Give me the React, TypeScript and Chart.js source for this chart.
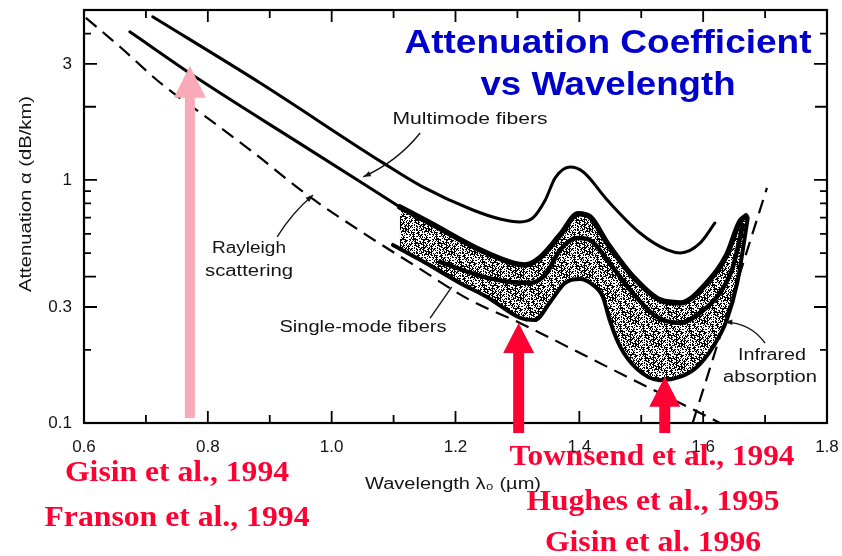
import React, { useEffect, useRef } from "react";
import { Chart, registerables } from "chart.js";

Chart.register(...registerables);

// ---- Axis ticks ----
const wavelengthTicks = [0.6, 0.8, 1.0, 1.2, 1.4, 1.6, 1.8];
const wavelengthMinorTicks = [0.7, 0.9, 1.1, 1.3, 1.5, 1.7];
const attenuationTicks = [0.1, 0.3, 1, 3];
const attenuationLongTicks = [0.4, 2];
const attenuationShortTicks = [0.2, 0.5, 0.6, 0.7, 0.8, 0.9, 4];

// ---- Curves: wavelength (µm) and attenuation (dB/km) ----
const multimodeWavelength = [0.711, 0.884, 1.083, 1.147, 1.228, 1.272, 1.304, 1.325, 1.345, 1.361, 1.385, 1.406, 1.445, 1.498, 1.542, 1.563, 1.595, 1.619];
const multimodeAttenuation = [4.69, 2.51, 1.175, 0.936, 0.752, 0.691, 0.672, 0.698, 0.827, 1.02, 1.13, 1.08, 0.827, 0.605, 0.515, 0.501, 0.55, 0.665];

const singleLeadWavelength = [0.674, 0.787, 0.949, 1.11];
const singleLeadAttenuation = [4.07, 2.58, 1.41, 0.774];

const bandTopWavelength = [1.11, 1.159, 1.24, 1.293, 1.312, 1.336, 1.369, 1.398, 1.417, 1.445, 1.487, 1.53, 1.563, 1.606, 1.638, 1.659, 1.669];
const bandTopAttenuation = [0.774, 0.665, 0.515, 0.455, 0.447, 0.478, 0.594, 0.725, 0.705, 0.55, 0.399, 0.321, 0.312, 0.377, 0.491, 0.672, 0.711];

const bandMidWavelength = [1.175, 1.24, 1.288, 1.32, 1.345, 1.369, 1.396, 1.417, 1.445, 1.482, 1.525, 1.563, 1.595, 1.627, 1.648, 1.664];
const bandMidAttenuation = [0.46, 0.403, 0.38, 0.377, 0.407, 0.515, 0.577, 0.566, 0.469, 0.353, 0.273, 0.258, 0.284, 0.343, 0.438, 0.653];

const bandLowWavelength = [1.099, 1.143, 1.207, 1.251, 1.304, 1.328, 1.353, 1.377, 1.401, 1.42, 1.438, 1.449, 1.466, 1.493, 1.53, 1.563, 1.59, 1.616, 1.638, 1.655, 1.664, 1.672];
const bandLowAttenuation = [0.54, 0.469, 0.377, 0.33, 0.271, 0.265, 0.315, 0.377, 0.391, 0.373, 0.33, 0.265, 0.206, 0.167, 0.15, 0.155, 0.17, 0.206, 0.265, 0.377, 0.515, 0.698];

const rayleighWavelength = [0.603, 0.658, 0.723, 0.803, 0.868, 0.965, 1.051, 1.138, 1.223, 1.304, 1.401, 1.509, 1.595, 1.627];
const rayleighAttenuation = [4.64, 3.53, 2.51, 1.77, 1.33, 0.851, 0.605, 0.438, 0.321, 0.258, 0.194, 0.141, 0.11, 0.1];

const infraredWavelength = [1.583, 1.703];
const infraredAttenuation = [0.1, 0.927];

// ---- Callout pointers: [wavelength, attenuation] from label to curve ----
const multimodePointer = [[1.143, 1.56], [1.051, 1.03]];
const rayleighPointer = [[0.912, 0.583], [0.97, 0.867]];
const singleModePointer = [[1.159, 0.27], [1.194, 0.363]];
const infraredPointer = [[1.7, 0.213], [1.635, 0.26]];

// ---- Experiment markers: wavelength and attenuation at arrow tip ----
const shortWaveArrow = { wavelength: 0.771, attenuation: 2.95 };
const telecomArrowWavelength = [1.302, 1.538];
const telecomArrowAttenuation = [0.258, 0.155];

// ---- Text ----
const titleLines = ["Attenuation Coefficient", "vs Wavelength"];
const shortWaveRefs = ["Gisin et al., 1994", "Franson et al., 1994"];
const telecomRefs = ["Townsend et al., 1994", "Hughes et al., 1995", "Gisin et al. 1996"];
const yTitle = "Attenuation α (dB/km)";
const xTitle = "Wavelength λ₀ (µm)";

const RED = "#ff0033";
const PINK = "#f9aab9";
const BLUE = "#0000cc";
const INK = "#141414";

const zip = (xs: number[], ys: number[]) => xs.map((x, i) => ({ x, y: ys[i] }));

// Irregular print-style stipple used for the single-mode spread band
function makeStipple(): CanvasPattern | string {
  const size = 23;
  const c = document.createElement("canvas");
  c.width = size;
  c.height = size;
  const g = c.getContext("2d");
  if (!g) return "rgba(0,0,0,0.5)";
  g.fillStyle = "#000";
  for (let i = 0; i < size; i++) {
    for (let j = 0; j < size; j++) {
      const h = (i * 73 + j * 151 + i * j * 37 + ((i * i) % 11) * 19) % 97;
      if (h < 46) g.fillRect(i, j, 1, 1);
    }
  }
  return g.createPattern(c, "repeat") ?? "rgba(0,0,0,0.5)";
}

function fitText(
  ctx: CanvasRenderingContext2D,
  text: string,
  cx: number,
  cy: number,
  width: number,
  font: string,
  color: string,
  rotate = 0
) {
  ctx.save();
  ctx.font = font;
  const w = ctx.measureText(text).width;
  ctx.translate(cx, cy);
  if (rotate) ctx.rotate(rotate);
  ctx.scale(width / w, 1);
  ctx.textAlign = "center";
  ctx.textBaseline = "middle";
  ctx.fillStyle = color;
  ctx.fillText(text, 0, 0);
  ctx.restore();
}

function blockArrow(
  ctx: CanvasRenderingContext2D,
  x: number,
  tipY: number,
  baseY: number,
  shaftW: number,
  headW: number,
  headL: number,
  color: string
) {
  ctx.save();
  ctx.fillStyle = color;
  ctx.beginPath();
  ctx.moveTo(x, tipY);
  ctx.lineTo(x + headW / 2, tipY + headL);
  ctx.lineTo(x + shaftW / 2, tipY + headL);
  ctx.lineTo(x + shaftW / 2, baseY);
  ctx.lineTo(x - shaftW / 2, baseY);
  ctx.lineTo(x - shaftW / 2, tipY + headL);
  ctx.lineTo(x - headW / 2, tipY + headL);
  ctx.closePath();
  ctx.fill();
  ctx.restore();
}

function arrowHead(ctx: CanvasRenderingContext2D, x0: number, y0: number, x1: number, y1: number) {
  const a = Math.atan2(y1 - y0, x1 - x0);
  const len = 8;
  ctx.beginPath();
  ctx.moveTo(x1, y1);
  ctx.lineTo(x1 - len * Math.cos(a - 0.35), y1 - len * Math.sin(a - 0.35));
  ctx.lineTo(x1 - len * Math.cos(a + 0.35), y1 - len * Math.sin(a + 0.35));
  ctx.closePath();
  ctx.fill();
}

const decorations = {
  id: "decorations",
  afterDraw(chart: Chart) {
    const { ctx, chartArea } = chart;
    const xs = chart.scales.x;
    const ys = chart.scales.y;
    const { left, right, top, bottom } = chartArea;
    const px = (v: number) => xs.getPixelForValue(v);
    const py = (v: number) => ys.getPixelForValue(v);

    ctx.save();
    // frame
    ctx.strokeStyle = "#000";
    ctx.lineWidth = 2.2;
    ctx.strokeRect(left, top, right - left, bottom - top);

    // inward ticks
    ctx.lineWidth = 1.8;
    const hTick = (v: number, len: number) => {
      const x = px(v);
      ctx.beginPath();
      ctx.moveTo(x, bottom);
      ctx.lineTo(x, bottom - len);
      ctx.moveTo(x, top);
      ctx.lineTo(x, top + len);
      ctx.stroke();
    };
    wavelengthTicks.forEach((v) => hTick(v, 12));
    wavelengthMinorTicks.forEach((v) => hTick(v, 8));
    const vTick = (v: number, len: number) => {
      const y = py(v);
      ctx.beginPath();
      ctx.moveTo(left, y);
      ctx.lineTo(left + len, y);
      ctx.moveTo(right, y);
      ctx.lineTo(right - len, y);
      ctx.stroke();
    };
    attenuationTicks.forEach((v) => vTick(v, 13));
    attenuationLongTicks.forEach((v) => vTick(v, 12));
    attenuationShortTicks.forEach((v) => vTick(v, 7));

    // callout pointers
    ctx.strokeStyle = INK;
    ctx.fillStyle = INK;
    ctx.lineWidth = 1.4;
    const drawPointer = (p: number[][], bend: number, head: boolean) => {
      const x0 = px(p[0][0]);
      const y0 = py(p[0][1]);
      const x1 = px(p[1][0]);
      const y1 = py(p[1][1]);
      const mx = (x0 + x1) / 2 + bend * (y1 - y0);
      const my = (y0 + y1) / 2 - bend * (x1 - x0);
      ctx.beginPath();
      ctx.moveTo(x0, y0);
      ctx.quadraticCurveTo(mx, my, x1, y1);
      ctx.stroke();
      if (head) arrowHead(ctx, mx, my, x1, y1);
    };
    drawPointer(multimodePointer, 0.12, true);
    drawPointer(rayleighPointer, 0.08, true);
    drawPointer(singleModePointer, 0, false);
    drawPointer(infraredPointer, -0.25, true);

    // curve labels
    const labelFont = "16px 'Liberation Sans', Arial, sans-serif";
    fitText(ctx, "Multimode fibers", 470, 120, 155, labelFont, INK);
    fitText(ctx, "Rayleigh", 249, 249, 74, labelFont, INK);
    fitText(ctx, "scattering", 249, 272, 88, labelFont, INK);
    fitText(ctx, "Single-mode fibers", 363, 328, 167, labelFont, INK);
    fitText(ctx, "Infrared", 772, 356, 68, labelFont, INK);
    fitText(ctx, "absorption", 770, 378, 94, labelFont, INK);

    // axis titles
    fitText(ctx, yTitle, 27, 194, 196, "16px 'Liberation Sans', Arial, sans-serif", INK, -Math.PI / 2);
    fitText(ctx, xTitle, 453, 485, 176, "16px 'Liberation Sans', Arial, sans-serif", INK);

    // experiment arrows
    blockArrow(ctx, px(shortWaveArrow.wavelength), py(shortWaveArrow.attenuation), bottom - 5, 10, 32, 32, PINK);
    telecomArrowWavelength.forEach((w, i) => {
      blockArrow(ctx, px(w), py(telecomArrowAttenuation[i]), bottom + 10, 11, 31, 30, RED);
    });

    // references
    const refFont = "bold 30px 'Liberation Serif', 'Times New Roman', serif";
    fitText(ctx, shortWaveRefs[0], 177, 473, 224, refFont, RED);
    fitText(ctx, shortWaveRefs[1], 177, 518, 265, refFont, RED);
    fitText(ctx, telecomRefs[0], 652, 457, 285, refFont, RED);
    fitText(ctx, telecomRefs[1], 653, 502, 253, refFont, RED);
    fitText(ctx, telecomRefs[2], 653, 543, 216, refFont, RED);

    // title
    const titleFont = "bold 33px 'Liberation Sans', Arial, sans-serif";
    fitText(ctx, titleLines[0], 608, 44, 407, titleFont, BLUE);
    fitText(ctx, titleLines[1], 608, 86, 255, titleFont, BLUE);

    ctx.restore();
  },
};

export default function App() {
  const canvasRef = useRef<HTMLCanvasElement | null>(null);

  useEffect(() => {
    const canvas = canvasRef.current;
    if (!canvas) return;
    const stipple = makeStipple();

    const solid = (data: { x: number; y: number }[], width: number, extra: object = {}) => ({
      data,
      borderColor: "#000",
      borderWidth: width,
      pointRadius: 0,
      cubicInterpolationMode: "monotone" as const,
      borderCapStyle: "round" as const,
      borderJoinStyle: "round" as const,
      fill: false,
      ...extra,
    });

    const chart = new Chart(canvas, {
      type: "line",
      data: {
        datasets: [
          solid(zip(bandMidWavelength, bandMidAttenuation), 4.5),
          solid(zip(bandTopWavelength, bandTopAttenuation), 5.5, {
            fill: 2,
            backgroundColor: stipple,
          }),
          solid(zip(bandLowWavelength, bandLowAttenuation), 4),
          solid(zip(singleLeadWavelength, singleLeadAttenuation), 3),
          solid(zip(multimodeWavelength, multimodeAttenuation), 3),
          solid(zip(rayleighWavelength, rayleighAttenuation), 2.2, {
            borderDash: [14, 8],
            borderCapStyle: "butt",
          }),
          solid(zip(infraredWavelength, infraredAttenuation), 2.2, {
            borderDash: [14, 8],
            borderCapStyle: "butt",
          }),
        ],
      },
      options: {
        responsive: false,
        animation: false,
        events: [],
        devicePixelRatio: 1,
        layout: { padding: { top: 10, right: 15, left: 0, bottom: 0 } },
        plugins: {
          legend: { display: false },
          tooltip: { enabled: false },
          filler: { propagate: false, drawTime: "beforeDatasetsDraw" },
        },
        scales: {
          x: {
            type: "linear",
            min: 0.6,
            max: 1.8,
            grid: { display: false, drawTicks: false },
            border: { display: false },
            afterBuildTicks: (axis: any) => {
              axis.ticks = wavelengthTicks.map((value) => ({ value }));
            },
            afterFit: (scale: any) => {
              scale.height = 133;
              scale.paddingLeft = 0;
              scale.paddingRight = 0;
            },
            ticks: {
              autoSkip: false,
              maxRotation: 0,
              padding: 14,
              color: INK,
              font: { family: "'Liberation Sans', Arial, sans-serif", size: 17 },
              callback: (v: any) => Number(v).toFixed(1),
            },
          },
          y: {
            type: "logarithmic",
            min: 0.1,
            max: 5,
            grid: { display: false, drawTicks: false },
            border: { display: false },
            afterBuildTicks: (axis: any) => {
              axis.ticks = attenuationTicks.map((value) => ({ value }));
            },
            afterFit: (scale: any) => {
              scale.width = 84;
              scale.paddingTop = 0;
              scale.paddingBottom = 0;
            },
            ticks: {
              autoSkip: false,
              padding: 12,
              color: INK,
              font: { family: "'Liberation Sans', Arial, sans-serif", size: 17 },
              callback: (v: any) => String(v),
            },
          },
        },
      },
      plugins: [decorations as any],
    });

    return () => chart.destroy();
  }, []);

  return (
    <div style={{ position: "fixed", left: 0, top: 0, width: 842, height: 556, background: "#fff" }}>
      <canvas ref={canvasRef} width={842} height={556} style={{ display: "block" }} />
    </div>
  );
}
